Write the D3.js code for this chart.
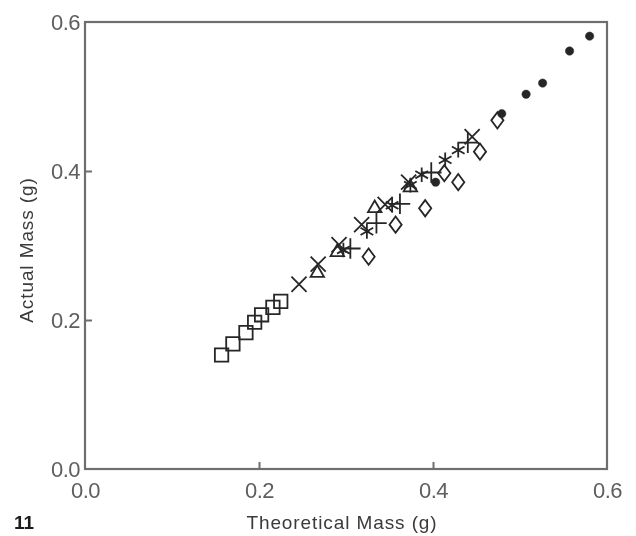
<!DOCTYPE html>
<html>
<head>
<meta charset="utf-8">
<script src="https://cdn.jsdelivr.net/npm/d3@7"></script>
<style>
  body { margin: 0; background: #fff; }
  text { font-family: "Liberation Sans", Arial, sans-serif; }
</style>
</head>
<body>
<svg id="chart"></svg>
<script>
// values (theoretical, actual) in grams
const squareTheo   = [0.157, 0.170, 0.185, 0.195, 0.203, 0.216, 0.225];
const squareActual = [0.153, 0.168, 0.183, 0.197, 0.207, 0.217, 0.225];

const crossTheo   = [0.246, 0.268, 0.292, 0.318, 0.345, 0.372, 0.445];
const crossActual = [0.248, 0.275, 0.301, 0.328, 0.355, 0.385, 0.446];

const triTheo   = [0.267, 0.290, 0.333, 0.374];
const triActual = [0.263, 0.291, 0.350, 0.378];

const starTheo   = [0.297, 0.324, 0.353, 0.374, 0.387, 0.414, 0.429];
const starActual = [0.294, 0.319, 0.354, 0.381, 0.395, 0.415, 0.428];

const plusTheo   = [0.305, 0.335, 0.362, 0.398, 0.440];
const plusActual = [0.296, 0.330, 0.356, 0.398, 0.438];

const diamondTheo   = [0.326, 0.357, 0.391, 0.413, 0.429, 0.454, 0.474];
const diamondActual = [0.285, 0.328, 0.350, 0.397, 0.385, 0.426, 0.468];

const dotTheo   = [0.403, 0.479, 0.507, 0.526, 0.557, 0.580];
const dotActual = [0.385, 0.477, 0.503, 0.518, 0.561, 0.581];

const tickValues = [0.0, 0.2, 0.4, 0.6];

const W = 636, H = 536;
const svg = d3.select('#chart').attr('width', W).attr('height', H);

// soft edge like the scanned original
svg.append('defs').append('filter').attr('id', 'soft')
    .append('feGaussianBlur').attr('stdDeviation', 0.45);

const x = d3.scaleLinear().domain([0, 0.6]).range([85, 607]);
const y = d3.scaleLinear().domain([0, 0.6]).range([469, 22]);

const frameColor = '#6e6e6e';
const inkColor = '#262626';
const labelColor = '#5e5e5e';

const root = svg.append('g').attr('filter', 'url(#soft)');

// frame
root.append('rect')
    .attr('x', x(0)).attr('y', y(0.6))
    .attr('width', x(0.6) - x(0)).attr('height', y(0) - y(0.6))
    .attr('fill', 'none').attr('stroke', frameColor).attr('stroke-width', 2.2);

// axes
const xAxis = root.append('g').attr('transform', `translate(0,${y(0)})`)
    .call(d3.axisBottom(x).tickValues(tickValues).tickSizeInner(-7).tickSizeOuter(0)
        .tickPadding(13).tickFormat(d3.format('.1f')));
const yAxis = root.append('g').attr('transform', `translate(${x(0)},0)`)
    .call(d3.axisLeft(y).tickValues(tickValues).tickSizeInner(-7).tickSizeOuter(0)
        .tickPadding(5).tickFormat(d3.format('.1f')));

[xAxis, yAxis].forEach(g => {
    g.select('.domain').remove();
    g.selectAll('.tick line').attr('stroke', frameColor).attr('stroke-width', 2)
        .filter(d => d === 0 || d === 0.6).remove();
    g.selectAll('.tick text').attr('fill', labelColor).attr('font-size', '22px')
        .attr('letter-spacing', '-0.5px').attr('font-family', '"Liberation Sans", Arial, sans-serif');
});

// wider diamond than d3's built-in one
const diamondWide = {
    draw(ctx, size) {
        const hh = Math.sqrt(size) * 0.7, hw = hh * 0.75;
        ctx.moveTo(0, -hh);
        ctx.lineTo(hw, 0);
        ctx.lineTo(0, hh);
        ctx.lineTo(-hw, 0);
        ctx.closePath();
    }
};

// markers
const series = [
    { xs: squareTheo, ys: squareActual, type: d3.symbolSquare, size: 180, fill: false },
    { xs: crossTheo, ys: crossActual, type: d3.symbolX, size: 150, fill: false },
    { xs: triTheo, ys: triActual, type: d3.symbolTriangle2, size: 130, fill: false },
    { xs: starTheo, ys: starActual, type: d3.symbolAsterisk, size: 150, fill: false },
    { xs: plusTheo, ys: plusActual, type: d3.symbolPlus, size: 140, fill: false },
    { xs: diamondTheo, ys: diamondActual, type: diamondWide, size: 135, fill: false },
    { xs: dotTheo, ys: dotActual, type: d3.symbolCircle, size: 55, fill: true }
];

series.forEach(s => {
    const sym = d3.symbol().type(s.type).size(s.size);
    root.append('g').selectAll('path')
        .data(s.xs.map((v, i) => [v, s.ys[i]]))
        .enter().append('path')
        .attr('transform', d => `translate(${x(d[0])},${y(d[1])})`)
        .attr('d', sym)
        .attr('fill', s.fill ? inkColor : 'none')
        .attr('stroke', inkColor)
        .attr('stroke-width', s.fill ? 0.5 : 1.8);
});

// labels
root.append('text').attr('x', 342).attr('y', 529)
    .attr('text-anchor', 'middle').attr('font-size', '19px').attr('fill', '#3a3a3a')
    .attr('letter-spacing', '0.9px')
    .text('Theoretical Mass (g)');
root.append('text').attr('transform', 'rotate(-90)').attr('x', -250).attr('y', 33)
    .attr('text-anchor', 'middle').attr('font-size', '19px').attr('fill', '#3a3a3a')
    .attr('letter-spacing', '0.9px')
    .text('Actual Mass (g)');
root.append('text').attr('x', 14).attr('y', 529)
    .attr('font-size', '19px').attr('font-weight', 'bold').attr('fill', '#1e1e1e')
    .text('11');
</script>
</body>
</html>
